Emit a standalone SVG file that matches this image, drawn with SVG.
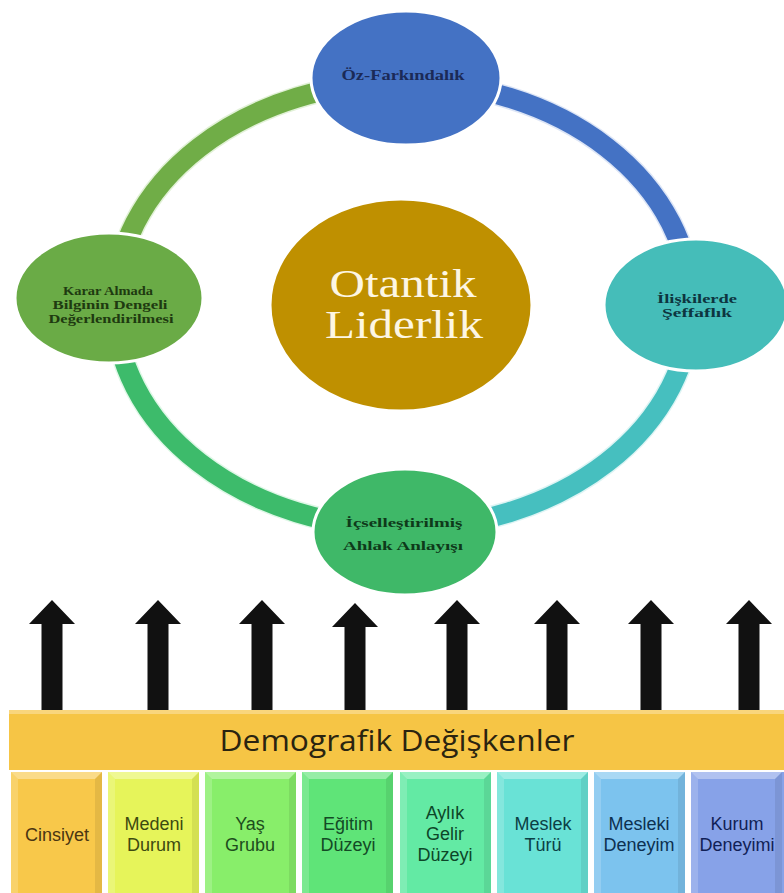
<svg xmlns="http://www.w3.org/2000/svg" width="784" height="893" viewBox="0 0 784 893">
<defs>
<style>
.arc{fill:none;stroke-width:20;}
.arcedge{fill:none;stroke-width:23;stroke-opacity:0.35;}
.node{stroke:#ffffff;stroke-width:3;}
.ntxt{font-family:"Liberation Serif",serif;font-weight:bold;text-anchor:middle;}
.btxt{font-family:"Liberation Sans",Arial,sans-serif;font-size:18px;text-anchor:middle;}
.arrow{fill:#111111;}
</style>
<g id="bevel">
<polygon points="0,0 91,0 84,7 7,7" fill="#ffffff" fill-opacity="0.35"/>
<polygon points="0,0 7,7 7,121 0,121" fill="#ffffff" fill-opacity="0.18"/>
<polygon points="91,0 91,121 84,121 84,7" fill="#000000" fill-opacity="0.08"/>
</g>
<path id="arr" d="M0,0 L23,24 L10.5,24 L10.5,112 L-10.5,112 L-10.5,24 L-23,24 Z"/>
</defs>
<rect width="784" height="893" fill="#ffffff"/>
<g id="connectors">
<path class="arcedge" stroke="#a8d88a" d="M115,305 A288,223 0 0 1 403,82"/>
<path class="arc" stroke="#70ad47" d="M115,305 A288,223 0 0 1 403,82"/>
<path class="arcedge" stroke="#9ab4e6" d="M403,82 A288,223 0 0 1 691,305"/>
<path class="arc" stroke="#4472c4" d="M403,82 A288,223 0 0 1 691,305"/>
<path class="arcedge" stroke="#9ee0e0" d="M691,305 A288,223 0 0 1 403,528"/>
<path class="arc" stroke="#46bfbf" d="M691,305 A288,223 0 0 1 403,528"/>
<path class="arcedge" stroke="#a0e8b8" d="M403,528 A288,223 0 0 1 115,305"/>
<path class="arc" stroke="#3dbb6b" d="M403,528 A288,223 0 0 1 115,305"/>
<use href="#arr" class="arrow" x="52" y="600"/>
<use href="#arr" class="arrow" x="158" y="600"/>
<use href="#arr" class="arrow" x="262" y="600"/>
<use href="#arr" class="arrow" x="355" y="603"/>
<use href="#arr" class="arrow" x="457" y="600"/>
<use href="#arr" class="arrow" x="557" y="600"/>
<use href="#arr" class="arrow" x="651" y="600"/>
<use href="#arr" class="arrow" x="749" y="600"/>
</g>
<g id="node-center">
<ellipse cx="401" cy="305" rx="131" ry="106" fill="#bf9000" class="node"/>
<text class="ntxt" style="font-weight:normal" font-size="40" fill="#fdf6e3" x="403" y="297" textLength="147" lengthAdjust="spacingAndGlyphs">Otantik</text>
<text class="ntxt" style="font-weight:normal" font-size="40" fill="#fdf6e3" x="404" y="338" textLength="158" lengthAdjust="spacingAndGlyphs">Liderlik</text>
</g>
<g id="node-top">
<ellipse cx="406" cy="78" rx="95" ry="67" fill="#4472c4" class="node"/>
<text class="ntxt" font-size="15" fill="#1b2a57" x="403" y="80" textLength="123" lengthAdjust="spacingAndGlyphs">Öz-Farkındalık</text>
</g>
<g id="node-left">
<ellipse cx="109" cy="298" rx="94" ry="65" fill="#6aab46" class="node"/>
<text class="ntxt" font-size="12" fill="#1e3a10" x="108" y="295" textLength="90" lengthAdjust="spacingAndGlyphs">Karar Almada</text>
<text class="ntxt" font-size="12" fill="#1e3a10" x="110" y="309" textLength="115" lengthAdjust="spacingAndGlyphs">Bilginin Dengeli</text>
<text class="ntxt" font-size="12" fill="#1e3a10" x="111" y="323" textLength="125" lengthAdjust="spacingAndGlyphs">Değerlendirilmesi</text>
</g>
<g id="node-right">
<ellipse cx="696" cy="305" rx="92" ry="66" fill="#45bdb9" class="node"/>
<text class="ntxt" font-size="13" fill="#0d3540" x="697" y="303" textLength="80" lengthAdjust="spacingAndGlyphs">İlişkilerde</text>
<text class="ntxt" font-size="13" fill="#0d3540" x="697" y="317" textLength="70" lengthAdjust="spacingAndGlyphs">Şeffaflık</text>
</g>
<g id="node-bottom">
<ellipse cx="405" cy="532" rx="92" ry="63" fill="#3fb868" class="node"/>
<text class="ntxt" font-size="13" fill="#0e3a1a" x="404" y="527" textLength="117" lengthAdjust="spacingAndGlyphs">İçselleştirilmiş</text>
<text class="ntxt" font-size="13" fill="#0e3a1a" x="403" y="550" textLength="120" lengthAdjust="spacingAndGlyphs">Ahlak Anlayışı</text>
</g>
<g id="banner">
<rect x="9" y="710" width="775" height="60" fill="#f6c545"/>
<rect x="9" y="710" width="775" height="4" fill="#ffffff" fill-opacity="0.3"/>
<text x="397" y="751" font-family="'Open Sans','Liberation Sans',sans-serif" font-size="29" fill="#2a2410" text-anchor="middle" textLength="355" lengthAdjust="spacingAndGlyphs">Demografik Değişkenler</text>
</g>
<g id="box-cinsiyet">
<rect x="11" y="772" width="91" height="121" fill="#f8c84a"/><use href="#bevel" x="11" y="772"/>
<text class="btxt" fill="#4a3512" x="57" y="841">Cinsiyet</text>
</g>
<g id="box-medeni">
<rect x="108" y="772" width="91" height="121" fill="#e6f45a"/><use href="#bevel" x="108" y="772"/>
<text class="btxt" fill="#3d4a10" x="154" y="830">Medeni</text>
<text class="btxt" fill="#3d4a10" x="154" y="851">Durum</text>
</g>
<g id="box-yas">
<rect x="205" y="772" width="91" height="121" fill="#88ee6a"/><use href="#bevel" x="205" y="772"/>
<text class="btxt" fill="#1d4d1d" x="250" y="830">Yaş</text>
<text class="btxt" fill="#1d4d1d" x="250" y="851">Grubu</text>
</g>
<g id="box-egitim">
<rect x="302" y="772" width="91" height="121" fill="#5fe478"/><use href="#bevel" x="302" y="772"/>
<text class="btxt" fill="#134a25" x="348" y="830">Eğitim</text>
<text class="btxt" fill="#134a25" x="348" y="851">Düzeyi</text>
</g>
<g id="box-gelir">
<rect x="400" y="772" width="91" height="121" fill="#63eaa4"/><use href="#bevel" x="400" y="772"/>
<text class="btxt" fill="#0d4628" x="445" y="819">Aylık</text>
<text class="btxt" fill="#0d4628" x="445" y="840">Gelir</text>
<text class="btxt" fill="#0d4628" x="445" y="861">Düzeyi</text>
</g>
<g id="box-meslek">
<rect x="497" y="772" width="91" height="121" fill="#69e2d6"/><use href="#bevel" x="497" y="772"/>
<text class="btxt" fill="#0c3f45" x="543" y="830">Meslek</text>
<text class="btxt" fill="#0c3f45" x="543" y="851">Türü</text>
</g>
<g id="box-mesleki">
<rect x="594" y="772" width="91" height="121" fill="#7cc3ee"/><use href="#bevel" x="594" y="772"/>
<text class="btxt" fill="#0d3050" x="639" y="830">Mesleki</text>
<text class="btxt" fill="#0d3050" x="639" y="851">Deneyim</text>
</g>
<g id="box-kurum">
<rect x="691" y="772" width="93" height="121" fill="#87a2e8"/><use href="#bevel" x="691" y="772"/>
<text class="btxt" fill="#111f55" x="737" y="830">Kurum</text>
<text class="btxt" fill="#111f55" x="737" y="851">Deneyimi</text>
</g>
</svg>
